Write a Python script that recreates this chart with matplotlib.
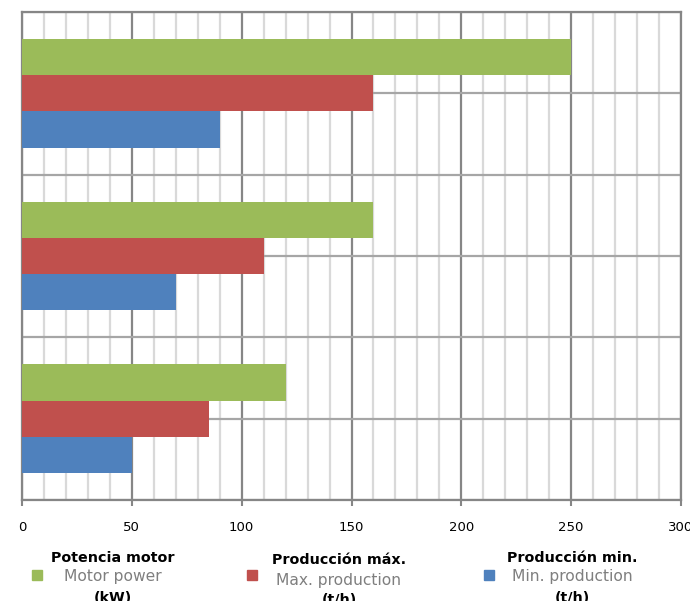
import numpy as np
import matplotlib
matplotlib.use("Agg")
import matplotlib.pyplot as plt
from matplotlib.ticker import MultipleLocator

# Crusher models (bottom to top on the chart)
models = ["Modelo 1", "Modelo 2", "Modelo 3"]
motor_power = [120, 160, 250]      # kW
max_production = [85, 110, 160]    # t/h
min_production = [50, 70, 90]      # t/h

series_es = ["Potencia motor", "Producción máx.", "Producción min."]
series_en = ["Motor power", "Max. production", "Min. production"]
series_unit = ["(kW)", "(t/h)", "(t/h)"]
colors = ["#9BBB59", "#C0504D", "#4F81BD"]

x_ticks = [0, 50, 100, 150, 200, 250, 300]

plt.rcParams["font.family"] = ["DejaVu Sans"]

fig = plt.figure(figsize=(6.9, 6.01), dpi=100)
ax = fig.add_axes([22 / 690, 101 / 601, 659 / 690, 488 / 601])

y = np.arange(len(models))
w = 1 / 4.5
ax.barh(y + w, motor_power, height=w, color=colors[0], zorder=3)
ax.barh(y, max_production, height=w, color=colors[1], zorder=3)
ax.barh(y - w, min_production, height=w, color=colors[2], zorder=3)

ax.set_xlim(x_ticks[0], x_ticks[-1])
ax.set_ylim(-0.5, len(models) - 0.5)
ax.set_xticks(x_ticks)
ax.xaxis.set_minor_locator(MultipleLocator(10))
ax.set_yticks(np.arange(-0.5, len(models), 0.5))
ax.set_yticklabels([])
ax.tick_params(axis="y", length=0)
ax.tick_params(axis="x", which="major", direction="out", length=4, width=1.5,
               color="#868686", labelsize=9.5, pad=11, labelcolor="black")
ax.tick_params(axis="x", which="minor", length=0)

ax.grid(axis="x", which="minor", color="#D9D9D9", linewidth=1.6, zorder=0)
ax.grid(axis="x", which="major", color="#868686", linewidth=1.6, zorder=1)
ax.grid(axis="y", which="major", color="#A6A6A6", linewidth=1.6, zorder=1)
ax.set_axisbelow(True)
for s in ax.spines.values():
    s.set_color("#868686")
    s.set_linewidth(1.6)

# Legend: colored square plus three-line bilingual label
W, H = 690, 601
entries = [
    (37, 113, 558, 577, 598),
    (252, 339, 560, 580, 600),
    (489, 572, 558, 577, 598),
]
for i, (sx, tx, y1, y2, y3) in enumerate(entries):
    sq_y = (y2 - 2) if i != 1 else (y2 - 5)
    fig.patches.append(plt.Rectangle(((sx - 5) / W, 1 - (sq_y + 5) / H), 10 / W, 10 / H,
                                     transform=fig.transFigure, color=colors[i]))
    fig.text(tx / W, 1 - y1 / H, series_es[i], ha="center", va="center",
             fontsize=10.3, fontweight="bold", color="black")
    fig.text(tx / W, 1 - y2 / H, series_en[i], ha="center", va="center",
             fontsize=11.2, color="#7F7F7F")
    fig.text(tx / W, 1 - y3 / H, series_unit[i], ha="center", va="center",
             fontsize=10.3, fontweight="bold", color="black")

fig.savefig("out.png", dpi=100)
